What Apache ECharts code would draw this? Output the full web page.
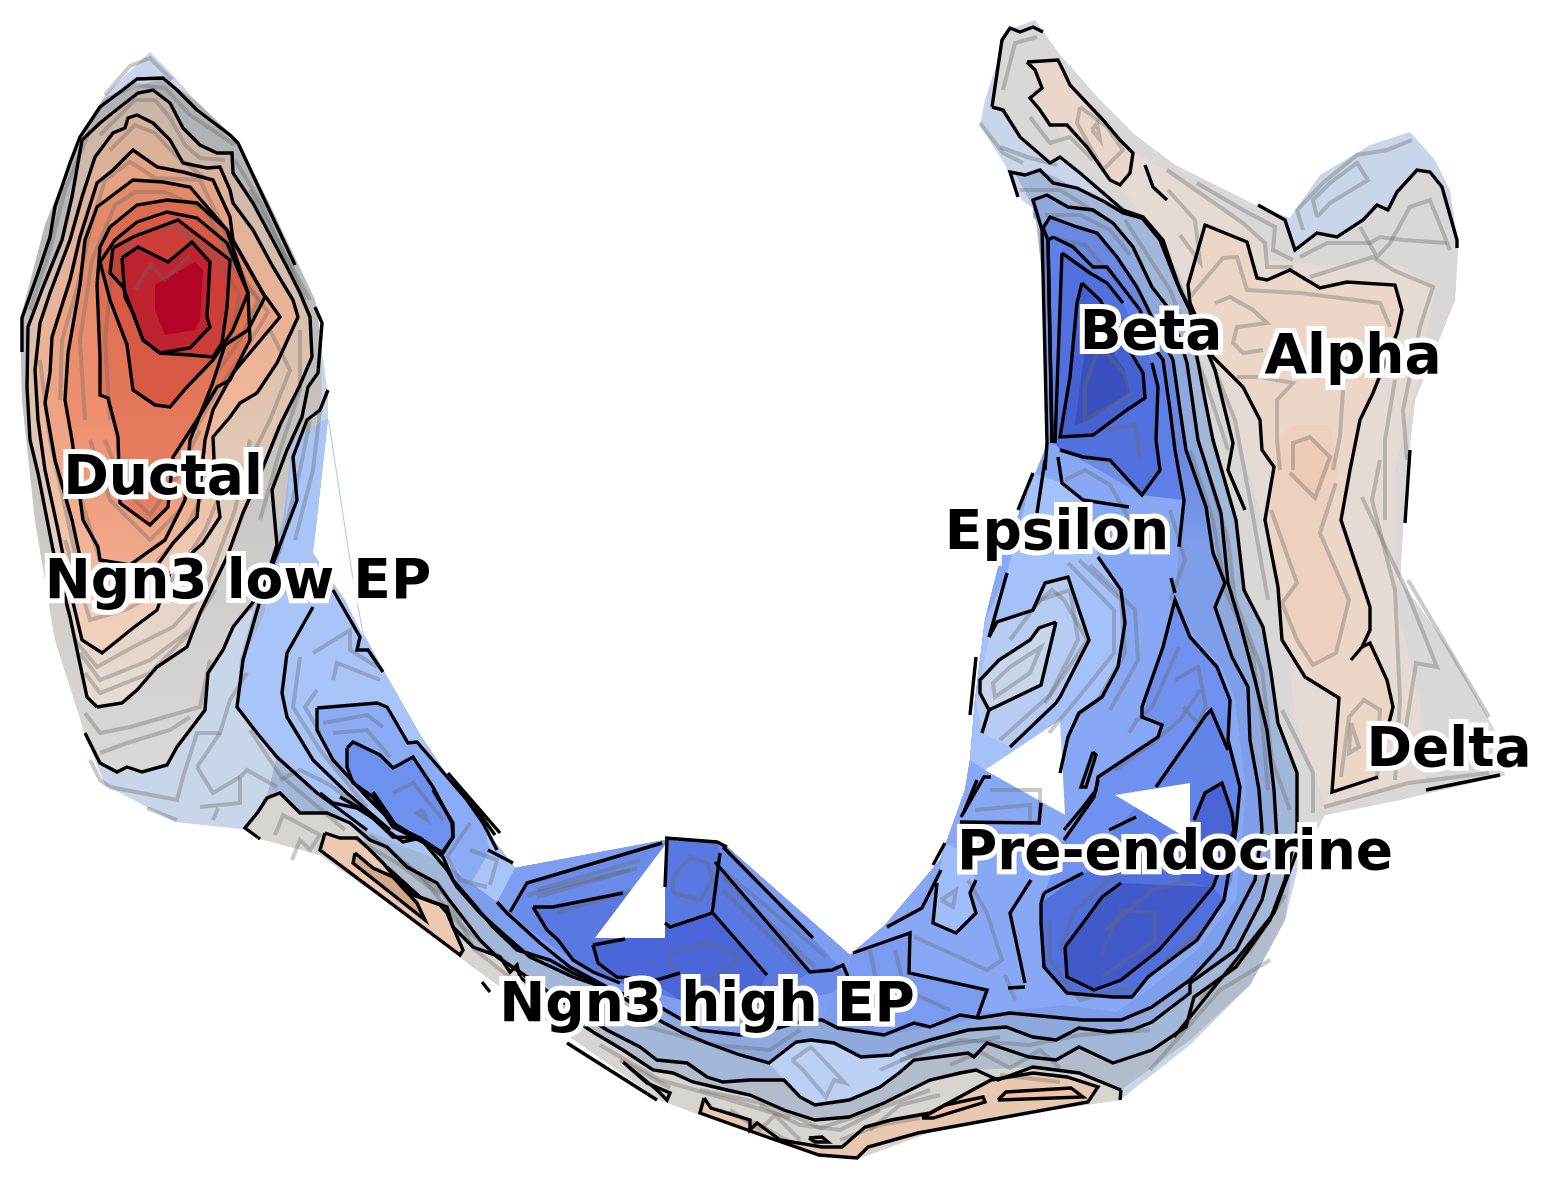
<!DOCTYPE html>
<html><head><meta charset="utf-8">
<script src="https://cdn.jsdelivr.net/npm/echarts@6/dist/echarts.min.js"></script>
<style>html,body{margin:0;padding:0;background:#fff}#c{width:1552px;height:1180px}</style></head>
<body><div id="c"></div>
<script>
// ---------- edges shared by filled contour levels (x, y in picture units) ----------
const silhouette=[[150,52],[170,72],[195,100],[237,140],[270,205],[315,300],[328,395],[328,418],[313,553],[345,600],[383,670],[420,735],[470,810],[515,868],[665,840],[725,845],[850,955],[885,925],[940,860],[965,790],[970,760],[975,700],[985,620],[1000,560],[1047,445],[1045,300],[1035,210],[1022,200],[1005,165],[980,125],[985,100],[998,60],[1008,30],[1035,20],[1060,55],[1100,100],[1135,135],[1175,165],[1255,205],[1290,218],[1320,175],[1370,145],[1410,132],[1435,160],[1450,190],[1458,245],[1455,300],[1415,400],[1405,490],[1400,580],[1450,650],[1500,740],[1505,775],[1400,800],[1325,815],[1300,860],[1285,920],[1250,985],[1190,1045],[1120,1100],[1085,1105],[950,1125],[860,1158],[820,1155],[770,1140],[700,1115],[660,1100],[560,1030],[470,965],[420,925],[320,855],[250,830],[175,822],[105,785],[85,735],[55,640],[35,520],[22,400],[20,320],[45,225],[75,150],[105,95]];
const upperEdge=[[1297,773],[1278,723],[1271,673],[1263,627],[1244,590],[1236,520],[1213,440],[1197,357],[1190,310],[1160,240],[1142,218],[1105,202],[1077,188],[1040,170],[1025,175],[1015,173],[1035,210],[1045,300],[1047,445],[1000,560],[985,620],[975,700],[970,760],[965,790],[940,860],[885,925],[850,955],[725,845],[665,840],[515,868],[470,810],[420,735],[383,670],[345,600],[313,553],[328,418],[293,440],[283,520],[260,590],[240,660],[237,707],[257,733],[277,757]];
const j4=[[267,797],[300,813],[387,867],[420,897],[447,907],[453,927],[473,947],[500,957],[510,972],[520,977],[560,1010],[593,1032],[623,1050],[653,1070],[673,1073],[693,1082],[727,1090],[750,1095],[784,1110],[815,1120],[849,1117],[884,1103],[930,1080],[960,1073],[976,1070],[998,1080],[1033,1067],[1079,1073],[1121,1090]];
const j3=[[267,797],[280,793],[300,813],[327,813],[350,823],[370,840],[387,847],[407,867],[437,883],[447,897],[470,927],[480,940],[497,957],[517,970],[560,1000],[607,1030],[640,1047],[657,1060],[687,1063],[707,1077],[723,1082],[750,1080],[784,1080],[800,1097],[815,1105],[849,1100],[880,1087],[899,1073],[914,1060],[968,1053],[974,1057],[987,1043],[1029,1057],[1056,1060],[1079,1047],[1113,1063],[1152,1050],[1186,1027],[1194,997],[1236,967],[1270,920],[1285,880],[1297,830],[1297,773]];
const j2=[[320,793],[333,803],[357,808],[373,818],[393,837],[420,838],[443,857],[453,880],[473,903],[493,927],[517,950],[550,960],[573,973],[607,987],[653,1017],[683,1033],[707,1043],[740,1055],[769,1063],[796,1042],[811,1040],[834,1043],[861,1057],[891,1055],[899,1050],[930,1040],[968,1030],[1006,1027],[1033,1037],[1056,1040],[1079,1028],[1109,1032],[1132,1030],[1152,1022],[1190,993],[1190,983],[1236,950],[1262,900],[1277,840],[1274,790],[1267,730],[1255,680],[1240,623],[1228,583],[1221,513],[1198,440],[1187,363],[1180,340],[1170,310],[1152,287],[1133,247],[1113,223],[1093,210],[1068,207],[1047,195],[1033,200],[1033,217]];
const j1=[[340,797],[363,810],[387,830],[403,842],[420,838],[447,870],[457,887],[480,913],[507,937],[530,957],[573,977],[620,993],[653,1003],[700,1030],[740,1035],[770,1030],[807,1020],[822,1020],[838,1028],[884,1035],[914,1023],[930,1027],[960,1015],[979,1018],[1010,1013],[1083,1020],[1121,1020],[1152,1007],[1190,980],[1220,947],[1255,880],[1262,830],[1259,790],[1250,740],[1248,687],[1232,657],[1215,607],[1225,583],[1213,553],[1206,507],[1186,450],[1180,410],[1173,360],[1160,335],[1147,307],[1137,287],[1117,257],[1097,233],[1077,227],[1050,217],[1043,228]];
// ---------- filled levels, left lobe ----------
const lobeA=[[85,733],[100,763],[117,772],[127,767],[142,772],[167,765],[177,747],[205,710],[208,673],[223,650],[233,627],[263,590],[285,540],[305,470],[322,395],[320,330],[315,300],[270,205],[237,140],[195,100],[163,78],[120,92],[100,107],[70,163],[45,225],[20,320],[22,400],[35,520],[55,640]];
const lobeB=[[97,707],[122,703],[137,690],[157,667],[187,647],[200,613],[227,557],[243,513],[262,470],[280,425],[300,385],[312,357],[310,317],[300,293],[287,267],[253,203],[233,173],[232,153],[217,153],[200,145],[183,128],[170,103],[153,90],[138,93],[120,107],[100,123],[82,140],[72,197],[62,240],[43,287],[28,327],[27,387],[30,440],[38,473],[53,550],[70,617],[87,697]];
const lobeC=[[40,323],[50,293],[70,240],[82,197],[95,157],[113,133],[125,128],[128,118],[137,115],[153,123],[170,140],[183,163],[207,168],[220,167],[230,190],[233,203],[253,230],[273,267],[293,300],[298,317],[277,363],[257,393],[240,403],[230,417],[213,437],[215,480],[220,517],[203,543],[170,573],[157,610],[133,628],[102,653],[82,640],[70,590],[58,530],[45,470],[38,420],[35,370]];
const lobeD=[[50,373],[52,337],[70,280],[80,237],[97,183],[113,170],[133,150],[157,167],[183,172],[213,180],[230,217],[233,240],[263,293],[280,317],[233,373],[213,410],[205,440],[197,517],[173,543],[140,590],[105,605],[85,580],[72,520],[55,460],[45,403]];
const lobeE=[[68,353],[80,285],[85,240],[97,207],[133,180],[163,182],[190,187],[227,230],[265,297],[248,330],[225,345],[212,385],[190,440],[185,500],[165,540],[130,565],[100,560],[98,547],[83,520],[72,440],[65,400]];
const lobeF=[[97,285],[100,357],[100,395],[108,398],[118,437],[120,503],[150,525],[168,507],[173,457],[197,420],[217,387],[230,380],[250,340],[248,293],[227,230],[197,203],[167,200],[137,205],[110,227],[100,247]];
const lobeG=[[137,222],[115,240],[100,262],[110,300],[127,345],[133,390],[155,405],[170,407],[187,387],[213,360],[233,330],[248,293],[227,243],[197,218],[167,212]];
const lobeH=[[113,248],[133,237],[178,220],[230,260],[227,307],[222,343],[213,357],[190,355],[160,353],[143,340],[123,287],[110,273]];
const lobeI=[[122,258],[138,247],[168,262],[192,242],[210,262],[207,317],[210,327],[190,348],[160,353],[143,340],[133,313],[125,297]];
const lobeJ=[[155,285],[195,262],[203,270],[200,320],[195,330],[165,335],[155,310]];
// ---------- filled levels, blue trough ----------
const bandGray=[...j4,[1190,1040],[1250,985],[1285,920],[1297,830],...upperEdge];
const bandMid=[...j3,...upperEdge];
const bandBlue=[...j2,[1043,228],[1047,445],[1000,560],[985,620],[975,700],[970,760],[965,790],[940,860],[885,925],[850,955],[725,845],[665,840],[515,868],[470,810],[420,735],[383,670],[345,600]];
const bandDeep=[...j1,[1047,445],[1000,560],[985,620],[975,700],[970,760],[965,790],[940,860],[885,925],[850,955],[725,845],[665,840],[515,868],[470,810],[420,735],[383,670]];
const paleLeft=[[293,440],[328,418],[313,553],[345,600],[383,670],[420,735],[470,810],[515,868],[510,912],[497,902],[440,860],[400,845],[347,822],[317,793],[277,757],[257,733],[237,707],[243,660],[263,617],[283,540]];
const lowOuter=[[317,708],[377,703],[387,707],[408,743],[417,742],[467,800],[483,823],[490,850],[470,885],[443,853],[393,823],[367,797],[333,760],[317,730]];
const lowInner=[[347,748],[353,742],[380,755],[393,768],[413,757],[433,787],[452,823],[453,837],[443,853],[413,837],[393,827],[373,797],[353,783],[347,767]];
const highBase=[[515,868],[665,840],[725,845],[850,955],[850,1000],[800,1020],[700,1030],[620,993],[573,977],[530,957],[507,937],[497,902]];
const highMid=[[527,883],[662,843],[717,842],[727,847],[813,938],[848,977],[843,990],[800,1000],[680,990],[620,983],[593,972],[558,950],[530,930],[510,912]];
const highDeep=[[533,907],[553,907],[623,893],[665,887],[667,840],[717,842],[720,853],[715,862],[810,972],[760,1005],[680,1000],[620,983],[593,972],[573,960],[558,940],[547,930]];
const highCore=[[593,945],[625,938],[665,938],[665,923],[670,927],[712,912],[767,975],[750,1005],[680,1000],[657,985],[617,977],[598,963]];
const palePatch=[[769,1063],[796,1042],[811,1040],[834,1043],[861,1057],[891,1055],[899,1050],[914,1060],[899,1073],[880,1087],[849,1100],[815,1105],[800,1097],[784,1080]];
const rightField=[[1047,445],[1000,560],[985,620],[975,700],[970,760],[965,790],[940,860],[885,925],[850,955],[840,990],[900,1015],[1000,1012],[1064,1005],[1117,1012],[1148,990],[1197,950],[1236,900],[1246,790],[1235,700],[1222,667],[1195,637],[1175,600],[1179,547],[1184,500],[1175,450]];
const epsLight=[[1007,573],[1033,473],[1062,483],[1083,500],[1098,557],[1121,590],[1125,623],[1118,667],[1102,697],[1079,713],[1068,737],[1060,773],[985,770],[970,760],[975,700],[985,620]];
const epsInner=[[989,637],[997,622],[1033,610],[1045,583],[1068,577],[1089,640],[1060,697],[1056,703],[1010,747],[982,733],[976,700]];
const epsCore=[[1056,622],[1039,628],[1030,640],[999,660],[980,680],[980,693],[989,710],[1041,685]];
const midBlob=[[853,953],[910,933],[909,973],[987,990],[977,1018],[930,1027],[884,1035],[838,1028],[822,1020]];
const midPale=[[937,883],[933,923],[956,933],[976,913],[970,893],[976,880],[960,850],[945,843]];
const apexRing=[[1175,600],[1190,637],[1217,667],[1230,700],[1228,740],[1240,787],[1236,830],[1232,880],[1213,920],[1197,940],[1148,977],[1113,997],[1067,993],[1044,967],[1041,923],[1041,903],[1064,840],[1083,807],[1096,790],[1098,777],[1158,737],[1162,725],[1142,717],[1142,707],[1163,647]];
const apexInner=[[1156,787],[1206,715],[1211,710],[1228,750],[1240,787],[1236,830],[1232,880],[1213,920],[1197,940],[1148,977],[1113,997],[1067,993],[1044,967],[1041,923],[1041,903],[1083,873],[1114,830]];
const preDeep=[[1041,903],[1083,873],[1150,865],[1213,887],[1224,900],[1197,940],[1148,977],[1132,997],[1113,997],[1067,993],[1044,967],[1041,923]];
const preCore=[[1065,947],[1083,923],[1102,897],[1121,883],[1213,887],[1194,910],[1159,950],[1121,980],[1094,990],[1067,977]];
const preTop=[[1205,793],[1222,783],[1232,813],[1234,830],[1213,887],[1180,880],[1194,820]];
// ---------- filled levels, beta and alpha ----------
const betaC=[[1043,228],[1050,217],[1077,227],[1097,233],[1117,257],[1137,287],[1147,307],[1160,335],[1173,360],[1186,450],[1206,507],[1213,553],[1179,547],[1184,500],[1142,495],[1052,443]];
const betaD=[[1048,240],[1053,237],[1073,247],[1093,267],[1107,267],[1127,293],[1140,310],[1152,345],[1163,360],[1175,450],[1184,500],[1142,495],[1110,460],[1052,443]];
const betaE=[[1062,253],[1090,273],[1107,283],[1123,303],[1152,363],[1158,387],[1156,440],[1160,470],[1142,495],[1110,460],[1083,457],[1060,450],[1055,443]];
const betaF=[[1082,283],[1100,300],[1137,363],[1143,373],[1145,398],[1127,410],[1093,435],[1060,437],[1070,377],[1077,303]];
const betaG=[[1090,320],[1125,370],[1130,392],[1090,420],[1075,425],[1082,370]];
const grayRight=[[1002,40],[1010,28],[1043,32],[1060,55],[1100,100],[1135,135],[1175,165],[1255,205],[1285,220],[1295,250],[1317,233],[1337,237],[1363,220],[1377,205],[1388,210],[1397,192],[1417,170],[1430,172],[1442,187],[1457,240],[1458,250],[1455,300],[1415,400],[1405,490],[1400,580],[1450,650],[1500,740],[1505,775],[1400,800],[1325,815],[1300,860],[1297,773],[1278,723],[1271,673],[1263,627],[1244,590],[1236,520],[1213,440],[1197,357],[1190,310],[1163,240],[1143,217],[1123,210],[1080,173],[1060,157],[1050,163],[1020,137],[1003,110],[992,107]];
const tanRight=[[1027,62],[1063,70],[1130,150],[1200,190],[1258,235],[1270,260],[1320,265],[1400,265],[1435,290],[1420,370],[1395,470],[1395,600],[1420,700],[1425,780],[1325,805],[1295,720],[1285,620],[1263,520],[1215,360],[1190,290],[1150,225],[1110,175],[1060,135]];
const alphaRing=[[1205,225],[1247,242],[1257,278],[1267,280],[1290,270],[1320,288],[1347,282],[1395,285],[1402,310],[1397,333],[1373,393],[1360,420],[1360,443],[1350,470],[1341,520],[1370,607],[1370,643],[1387,680],[1393,707],[1389,740],[1378,777],[1332,792],[1339,698],[1305,677],[1282,640],[1278,587],[1265,520],[1274,467],[1262,450],[1260,420],[1243,387],[1213,357],[1190,303],[1188,285]];
const alphaCore=[[1293,443],[1310,437],[1334,460],[1315,498],[1290,473]];
const alphaLong=[[1277,440],[1293,425],[1330,425],[1338,470],[1320,533],[1349,600],[1336,653],[1313,665],[1297,640],[1282,603],[1297,583],[1271,510]];
const topPeach=[[1027,62],[1058,60],[1063,70],[1070,85],[1087,103],[1103,120],[1120,140],[1133,153],[1130,173],[1120,185],[1110,180],[1087,147],[1067,125],[1050,125],[1040,110],[1030,98],[1042,88],[1035,70]];
// ---------- filled levels, lower strips ----------
const stripGray=[[245,828],[258,812],[267,798],[280,793],[300,813],[327,813],[350,823],[387,867],[420,897],[447,907],[453,927],[473,947],[500,957],[520,977],[560,1010],[593,1032],[653,1070],[693,1082],[727,1090],[784,1110],[815,1120],[849,1117],[884,1103],[930,1080],[976,1070],[1033,1067],[1079,1073],[1121,1090],[1120,1100],[1085,1105],[950,1125],[860,1158],[820,1155],[770,1140],[700,1115],[660,1100],[560,1030],[470,965],[420,925],[320,855],[260,839]];
const stripA=[[325,833],[320,850],[460,955],[463,950],[447,913],[440,905],[413,895],[397,880],[383,863],[370,850],[357,838],[340,838]];
const stripAin=[[355,853],[353,863],[425,920],[417,903],[393,877],[373,868]];
const stripB=[[704,1098],[711,1108],[750,1120],[750,1130],[757,1123],[780,1140],[822,1147],[842,1147],[865,1127],[891,1120],[930,1113],[991,1080],[1033,1073],[1067,1077],[1098,1087],[1088,1102],[918,1133],[868,1147],[857,1158],[819,1155],[770,1138],[700,1113]];
const stripBin1=[[922,1118],[945,1105],[983,1097],[985,1102],[933,1118]];
const stripBin2=[[998,1100],[1006,1092],[1071,1088],[1083,1097]];
const stripBdot=[[809,1138],[822,1137],[828,1142],[815,1142]];
// ---------- holes in the surface ----------
const holeA=[[595,938],[665,845],[665,938]];
const holeB=[[985,770],[1060,720],[1065,815]];
const holeC=[[1115,795],[1190,783],[1190,840]];
const sliver=[[330,425],[352,570],[365,640],[345,600],[313,553]];
const hairline=[[329,420],[352,570],[365,642],[364,642],[351,570],[328,420]];

const fillLevels=[
 [silhouette,'#c9d5e8'],[grayRight,'#dad8d6'],[tanRight,'#e5dbd4'],[alphaRing,'#ebd6c8'],[alphaLong,'#edd1be'],[alphaCore,'#efcbb5'],[topPeach,'#ead7cb'],
 [lobeA,[[0,'#aeb0b4'],[0.55,'#c8c4c0'],[1,'#dbd9d8']]],[lobeB,[[0,'#c8b5a8'],[0.5,'#e0c3b0'],[1,'#e8dcd4']]],[lobeC,[[0,'#d8b09a'],[0.5,'#eeb498'],[1,'#f0d2bf']]],[lobeD,[[0,'#e5a384'],[0.6,'#efa384'],[1,'#f1bda3']]],[lobeE,[[0,'#e08a68'],[0.6,'#ee8f6e'],[1,'#f0ab8c']]],[lobeF,[[0,'#dc6a4c'],[1,'#ea8062']]],[lobeG,'#d85a44'],[lobeH,'#cc3e37'],[lobeI,'#bf2230'],[lobeJ,'#b40426'],
 [bandGray,'#b3bcca'],[bandMid,'#a3b7d9'],[bandBlue,'#8fa9de'],[bandDeep,'#7f9eea'],[paleLeft,'#a8c4f9'],[lowOuter,'#8cabf5'],[lowInner,'#6e90ee'],[highBase,'#7f9ef2'],[highMid,'#6b8bea'],[highDeep,'#5a78e2'],[highCore,'#4a66d8'],[palePatch,'#bcd0f6'],
 [rightField,'#88a8f6'],[epsLight,'#a5c1fa'],[epsInner,'#b8cbf2'],[epsCore,'#c8d5ea'],[midBlob,'#7a9bf0'],[midPale,'#9fbcfb'],[apexRing,'#7091ef'],[apexInner,'#6283e8'],[preDeep,'#5270dd'],[preCore,'#4259ca'],[preTop,'#4a63d5'],
 [betaC,[[0,'#6a88df'],[0.7,'#6a88df'],[1,'#7f9eea']]],[betaD,'#5f80e8'],[betaE,'#5271de'],[betaF,'#4561d2'],[betaG,'#3b50bf'],
 [stripGray,'#d8d4d0'],[stripA,'#edc9b2'],[stripAin,'#d2a78d'],[stripB,'#e9c8b2'],[stripBin1,'#f2c0a4'],[stripBin2,'#f2c0a4'],
 [holeA,'#ffffff'],[holeB,'#ffffff'],[holeC,'#ffffff'],[sliver,'#ffffff'],[hairline,'#a8c4f9']
];

// ---------- faint level lines ----------
const grayLines=[
 [[105,95],[130,66],[150,58],[172,80]],[[85,130],[105,100],[135,85],[165,88],[190,115],[235,145]],[[100,135],[135,100],[155,100],[170,118],[185,145],[200,158],[225,160]],[[110,150],[135,125],[155,133],[175,155],[205,178]],[[30,310],[50,250],[65,190],[90,130]],[[235,160],[262,205],[305,300]],[[250,190],[285,255],[310,300]],
 [[60,400],[62,340],[78,285],[90,230],[105,180],[130,162],[155,178],[200,180],[222,225],[245,280],[268,312],[245,350],[218,390],[195,430]],
 [[85,420],[80,340],[92,260],[115,205],[135,192],[165,192],[205,210],[235,270],[258,300],[240,340],[215,375]],
 [[110,420],[105,340],[112,270],[135,235],[170,225],[215,255],[240,295],[230,340],[200,375]],
 [[105,440],[125,490],[150,515],[175,480],[200,430]],[[90,440],[110,500],[150,540],[180,510],[205,450]],[[75,480],[100,560],[145,575],[185,530],[210,480]],[[65,540],[90,620],[125,610],[165,590],[205,530],[230,470]],
 [[40,360],[50,440],[70,530],[85,600]],[[75,640],[97,667],[133,647],[173,627],[200,597]],[[80,653],[100,680],[150,660],[190,630],[215,590]],[[85,673],[100,693],[150,673],[190,633]],[[85,713],[100,733],[130,727],[200,707],[210,660]],[[100,753],[127,743],[170,730],[190,717]],
 [[135,290],[150,265],[165,280],[190,255]],
 [[270,330],[290,370],[270,420],[245,470]],[[250,440],[235,510],[205,590]],[[300,330],[300,390],[280,450],[260,520]],[[310,420],[300,470],[280,550],[250,610]],[[320,410],[313,470],[295,540]],
 [[90,760],[100,780],[110,787],[177,800],[183,777],[197,733],[220,733],[230,700],[247,673]],[[147,808],[177,820]],[[200,807],[240,803],[240,777],[247,770],[277,787]],[[197,767],[213,793],[240,777]],[[197,767],[220,733]],[[213,820],[218,808]],
 [[313,653],[350,630],[350,650],[377,667]],[[300,657],[293,707],[320,750],[367,807]],[[333,680],[337,663],[380,680]],[[317,690],[305,707],[320,733]],[[323,723],[367,715],[383,727]],[[333,733],[367,730],[390,757]],[[423,810],[417,813],[427,820],[423,810]],[[393,793],[413,783],[443,820]],[[470,823],[447,857],[460,880],[487,887]],[[470,850],[497,860],[490,885]],[[280,780],[300,770],[330,785],[370,815]],[[250,730],[280,775],[345,830]],
 [[275,835],[283,815],[320,835],[310,850],[300,840],[292,860]],[[355,838],[400,865],[440,895]],[[400,860],[445,895],[475,950],[520,985]],[[370,835],[420,875],[460,925],[510,965]],
 [[537,890],[640,860]],[[537,897],[637,868]],[[557,913],[630,890]],[[527,895],[630,870]],[[723,877],[815,967]],[[723,890],[800,967]],[[723,870],[826,957]],[[673,893],[700,900],[713,880],[707,863],[690,857],[673,877],[673,893]],[[670,953],[670,963],[683,977],[713,980],[740,957],[707,943],[670,953]],
 [[792,1060],[803,1070],[826,1097],[834,1080],[845,1083],[811,1047],[792,1060]],[[640,1025],[715,1045],[770,1050],[800,1030]],[[900,1060],[960,1040],[1030,1045],[1080,1035],[1150,1030]],[[880,1070],[930,1048],[1000,1037]],[[950,1065],[980,1052],[1010,1068],[1040,1050],[1060,1068]],[[1150,1070],[1220,990],[1270,960]],[[1200,1000],[1250,950],[1285,895]],[[600,1045],[660,1080],[730,1100],[790,1118]],[[700,1090],[770,1105],[820,1128],[870,1112],[930,1090]],[[620,1060],[670,1088]],
 [[760,1105],[800,1125],[840,1130],[880,1110]],[[730,1110],[760,1130],[775,1115],[800,1140]],[[870,1130],[900,1105],[940,1095]],[[1000,1075],[1060,1082]],[[720,1110],[760,1125],[800,1148]],[[840,1140],[880,1125],[920,1118]],
 [[914,937],[937,947],[987,970],[1002,960],[987,913],[968,880]],[[941,900],[956,890],[953,907],[941,900]],[[895,950],[905,990],[950,1010]],[[870,950],[880,1000]],[[1005,975],[1015,1000]],
 [[1102,953],[1121,910],[1155,913],[1155,940],[1102,977]],[[1106,930],[1152,890],[1190,880]],[[1060,950],[1075,910],[1120,870]],[[1050,920],[1050,960],[1080,1000],[1140,985],[1200,930]],
 [[1033,607],[1052,590],[1064,600],[1087,640],[1045,703]],[[1010,667],[1041,647],[1030,673],[995,697],[993,683],[1010,667]],[[1068,563],[1114,610],[1114,653],[1087,687],[1049,733]],[[1079,560],[1121,600],[1125,653],[1098,700],[1075,717]],[[1090,565],[1135,610],[1138,660],[1110,710]],[[1010,640],[1040,600],[1070,590],[1078,640],[1050,695],[1000,740]],
 [[1175,680],[1198,667],[1206,707],[1198,723],[1183,707]],[[1129,733],[1137,720],[1152,707],[1179,647]],[[1115,770],[1150,745],[1180,720],[1200,690]],[[990,790],[1040,790],[1040,815]],[[975,810],[1030,805],[1030,825]],
 [[1065,480],[1085,470],[1110,485],[1130,520]],[[1170,600],[1185,560],[1170,510]],[[1085,385],[1100,345],[1125,375],[1130,395],[1085,420],[1085,385]],[[1045,215],[1080,215],[1110,230],[1130,255]],[[1060,240],[1085,245],[1120,285]],[[1105,430],[1135,425],[1140,460]],[[1020,190],[1060,190],[1100,215]],
 [[1190,450],[1213,520],[1225,590],[1252,650],[1262,720],[1268,790]],[[1207,470],[1228,540],[1235,600],[1262,670],[1272,760],[1290,810]],[[1125,220],[1170,290],[1205,380],[1228,450]],[[1160,240],[1195,320],[1235,420],[1250,500],[1268,600]],
 [[1003,90],[1015,43],[1037,37]],[[1030,117],[1050,143],[1070,137],[1093,160]],[[1000,147],[1027,157],[1057,165]],[[980,123],[1003,153],[1023,163]],[[1080,107],[1077,123],[1103,170],[1123,150],[1107,127],[1080,107]],[[1092,130],[1100,140],[1097,123],[1092,130]],
 [[1197,183],[1243,210],[1275,227],[1273,250],[1293,260]],[[1167,170],[1243,223],[1265,243],[1267,267],[1293,267]],[[1317,217],[1313,200],[1330,183],[1357,163],[1368,180],[1330,203],[1317,217]],[[1303,230],[1297,210],[1323,183],[1357,155],[1387,150],[1412,140]],[[1300,257],[1327,243],[1370,243],[1380,237],[1403,240],[1447,243]],[[1360,227],[1377,257],[1390,243],[1410,207],[1430,200],[1450,250]],[[1310,277],[1373,257],[1393,270],[1433,287],[1420,327],[1403,410],[1407,460]],
 [[1190,297],[1223,258],[1237,257],[1247,290],[1300,293],[1380,303],[1390,327]],[[1215,303],[1230,297],[1253,310],[1267,323],[1237,327],[1233,343],[1243,353],[1263,350]],[[1237,377],[1260,377],[1293,383],[1277,400],[1277,440],[1280,470]],[[1343,390],[1340,437],[1333,470]],[[1293,470],[1293,443],[1310,437],[1330,457],[1315,498],[1290,473]],[[1271,510],[1297,583],[1282,603],[1297,640],[1313,665],[1336,653],[1349,600],[1320,533],[1336,483]],
 [[1362,497],[1382,540],[1405,587],[1437,667],[1416,663],[1405,733]],[[1408,580],[1489,717]],[[1341,777],[1349,717],[1364,700],[1380,710],[1377,780]],[[1351,723],[1359,747],[1349,753],[1351,723]],[[1282,710],[1297,740],[1313,773],[1313,813]],[[1324,807],[1408,783],[1489,773]],[[1380,460],[1372,500],[1395,590],[1400,700],[1395,780]],[[1395,380],[1385,440],[1385,520]],[[1168,190],[1195,220],[1200,262],[1180,235]]
];
// ---------- heavy level lines ----------
const blackLines=[
 [[22,352],[22,318],[38,273],[50,237],[55,207],[70,163],[80,137],[100,107],[120,92],[137,79],[163,78],[177,90],[197,110],[230,135],[238,143],[295,265]],
 lobeB.concat([lobeB[0]]),lobeC.concat([lobeC[0]]),lobeD.concat([lobeD[0]]),lobeE.concat([lobeE[0]]),lobeF.concat([lobeF[0]]),lobeG.concat([lobeG[0]]),lobeH.concat([lobeH[0]]),lobeI.concat([lobeI[0]]),
 [[85,733],[100,763],[117,772],[127,767],[142,772],[167,765],[177,747],[205,710],[208,673],[223,650],[233,627],[263,590],[277,545],[272,490],[287,450],[302,417],[308,387],[318,373],[322,323],[315,307]],
 [[328,390],[320,410],[307,420],[293,457],[297,500],[283,537],[263,590],[243,660],[237,707],[257,733],[277,757],[317,793],[347,815],[367,830]],[[313,607],[287,653],[282,693],[287,717],[313,760],[347,793],[390,830]],[[333,590],[360,637],[357,650],[368,650],[383,672]],
 lowInner.concat([lowInner[0]]),[[317,708],[377,703],[387,707],[408,743],[417,742],[467,800],[483,823],[497,850]],[[317,708],[317,730],[333,760],[367,797],[393,823],[443,853]],[[373,792],[397,827],[420,838],[442,853],[453,837],[453,823],[433,790]],[[448,773],[500,833]],[[453,780],[477,810],[495,835]],[[488,850],[513,863]],
 [[260,839],[245,828],[258,812],[267,798],[280,793],[300,813],[327,813],[350,823],[370,840],[387,847],[407,867],[437,883],[447,897],[470,927],[480,940],[497,957],[517,970],[560,1000],[607,1030],[640,1047],[657,1060],[687,1063],[707,1077],[723,1082],[750,1080],[784,1080],[800,1097],[815,1105],[849,1100],[880,1087],[899,1073],[914,1060],[968,1053],[974,1057],[987,1043],[1029,1057],[1056,1060],[1079,1047],[1113,1063],[1152,1050],[1186,1027],[1194,997],[1236,967],[1270,920],[1285,880],[1297,830],[1297,773],[1278,723],[1271,673],[1263,627],[1244,590],[1236,520],[1213,440],[1205,400],[1197,357],[1190,310],[1177,283],[1160,240],[1142,218],[1123,213],[1105,202],[1077,188],[1053,183],[1040,170],[1025,175],[1010,172],[1018,197]],
 j2.slice(0,-1).concat([[1042,230],[1047,443],[1045,470]]),j1.concat([[1048,240],[1052,443]]),
 [[387,867],[420,897],[447,907],[453,927],[473,947],[500,957],[510,972],[517,965],[520,977],[560,1010],[593,1032],[623,1050],[653,1070],[673,1073],[693,1082],[727,1090],[750,1095],[784,1110],[815,1120],[849,1117],[884,1103],[930,1080],[960,1073],[976,1070],[998,1080],[1033,1067],[1079,1073],[1121,1090]],
 [[482,982],[490,992]],[[567,1043],[657,1100]],[[623,1062],[647,1083],[670,1093],[667,1100],[657,1090],[623,1062]],[[1174,1037],[1274,913],[1305,830]],
 stripA.concat([stripA[0]]),stripAin.concat([stripAin[0]]),
 [[510,912],[527,883],[662,843]],[[497,902],[507,913],[540,943],[570,967],[607,987]],[[665,838],[717,842],[727,847]],[[667,840],[665,887]],[[665,923],[670,927],[712,913],[713,907],[720,853]],[[723,847],[813,938]],[[715,862],[810,972],[832,970],[843,965],[848,977]],[[712,912],[767,975]],
 [[533,907],[553,907],[623,893]],[[533,907],[547,930],[558,940],[573,960],[593,972],[620,983]],[[593,945],[625,939]],[[593,945],[598,963],[617,977],[657,980],[680,973]],
 stripB.concat([stripB[0]]),stripBin1.concat([stripBin1[0]]),stripBin2.concat([stripBin2[0]]),stripBdot.concat([stripBdot[0]]),
 [[1121,1090],[1120,1100]],
 [[1065,947],[1083,923],[1102,897],[1121,883]],[[1065,947],[1067,977],[1094,990],[1121,980],[1159,950],[1194,910],[1213,887]],
 [[1041,903],[1041,923],[1044,967],[1067,993],[1113,997],[1132,997],[1148,977],[1197,940],[1224,900],[1236,830],[1240,787],[1228,740],[1230,700],[1217,667],[1190,637],[1175,600],[1163,647],[1142,707],[1142,717],[1162,725],[1158,737],[1098,777],[1096,790],[1083,807],[1064,830]],[[1044,893],[1083,873]],[[1041,903],[1044,893]],
 [[1031,880],[1010,913],[1025,983]],[[1008,988],[1025,987]],
 [[1194,820],[1205,793],[1222,783],[1232,813],[1234,830],[1213,887]],[[1156,787],[1206,715],[1211,710],[1228,750]],[[1109,830],[1136,817]],
 [[887,927],[922,908],[941,870]],[[937,883],[933,923],[956,933],[976,913],[970,893],[976,880]],[[853,953],[910,933],[909,973],[987,990],[977,1018]],[[933,865],[945,843]],[[964,812],[977,780]],[[960,822],[1039,823],[1041,803]],[[1064,840],[1094,797],[1098,780]],
 [[1098,557],[1121,590],[1125,623],[1118,667],[1102,697],[1079,713],[1068,737],[1060,773]],[[989,637],[997,622],[1033,610],[1045,583],[1068,577],[1089,640],[1060,697],[1056,703],[1010,747]],[[1007,573],[989,637]],[[1056,622],[1039,628],[1030,640],[999,660],[980,680],[980,693],[989,710],[1041,685],[1056,622]],[[989,710],[982,733]],[[976,657],[970,715]],[[961,817],[984,777],[991,777]],[[1093,752],[1081,787],[1086,787],[1096,755],[1093,752]],[[1171,578],[1175,593]],
 [[1060,450],[1083,457],[1110,460],[1142,495],[1160,470],[1156,440],[1158,387],[1152,363]],[[1058,457],[1062,483],[1083,500],[1129,507]],[[1033,473],[1018,510]],[[1045,460],[1037,513]],[[1140,310],[1152,345],[1163,360],[1170,410],[1175,450],[1184,500],[1179,547]],
 [[1053,237],[1048,240],[1052,443]],[[1053,237],[1073,247],[1093,267],[1107,267],[1127,293],[1140,310]],[[1062,253],[1090,273],[1107,283],[1123,303]],[[1062,253],[1055,443]],
 betaF.concat([betaF[0]]),
 [[1190,310],[1215,370],[1233,443],[1228,470],[1245,510]],
 [[992,107],[1002,40],[1010,28],[1020,32],[1033,27],[1043,32]],[[992,107],[1003,110],[1020,137],[1050,163],[1060,157],[1080,173],[1123,210],[1143,217],[1163,240],[1180,290],[1190,310]],topPeach.concat([topPeach[0]]),[[1145,165],[1153,187],[1167,200]],[[1258,205],[1285,220],[1295,250],[1317,233],[1337,237],[1363,220],[1377,205],[1388,210],[1397,192],[1417,170],[1430,172],[1442,187],[1457,240],[1457,248]],
 [[1351,660],[1362,647],[1370,630],[1370,607],[1341,520],[1350,470],[1360,420],[1373,393],[1397,333],[1402,310],[1395,285],[1347,282],[1320,288],[1290,270],[1267,280],[1257,278],[1247,242],[1205,225],[1188,285],[1190,303],[1213,357],[1243,387],[1260,420],[1262,450],[1274,467],[1265,520],[1278,587],[1282,640],[1305,677],[1339,698],[1332,792],[1378,777]],[[1362,647],[1370,643],[1387,680],[1393,707],[1389,723]],[[1410,450],[1405,523]],[[1426,790],[1500,775]]
];
// ---------- labels ----------
const clusterNames=['Ductal','Ngn3 low EP','Ngn3 high EP','Pre-endocrine','Epsilon','Beta','Alpha','Delta'];
const clusterX=[163,238,707,1175,1057,1151,1353,1449];
const clusterY=[480,584,1007,855,535,335,359,752];

const chart=echarts.init(document.getElementById('c'),null,{renderer:'canvas'});
const toPts=(api,pts)=>pts.map(p=>api.coord(p));
const toFill=c=>Array.isArray(c)?new echarts.graphic.LinearGradient(0,0,0,1,c.map(s=>({offset:s[0],color:s[1]}))):c;
chart.setOption({
 animation:false,backgroundColor:'#fff',
 grid:{left:0,right:0,top:0,bottom:0},
 xAxis:{type:'value',min:0,max:1552,show:false},
 yAxis:{type:'value',min:0,max:1180,inverse:true,show:false},
 series:[
  {type:'custom',silent:true,clip:false,data:fillLevels.map((d,i)=>[d[0][0][0],d[0][0][1],i]),encode:{x:0,y:1},
   renderItem:(p,api)=>{const l=fillLevels[p.dataIndex];return {type:'polygon',shape:{points:toPts(api,l[0])},style:{fill:toFill(l[1])}};}},
  {type:'custom',silent:true,clip:false,data:grayLines.map((d,i)=>[d[0][0],d[0][1],i]),encode:{x:0,y:1},
   renderItem:(p,api)=>({type:'polyline',shape:{points:toPts(api,grayLines[p.dataIndex])},style:{fill:null,stroke:'rgba(105,105,105,0.36)',lineWidth:4,lineJoin:'miter'}})},
  {type:'custom',silent:true,clip:false,data:blackLines.map((d,i)=>[d[0][0],d[0][1],i]),encode:{x:0,y:1},
   renderItem:(p,api)=>({type:'polyline',shape:{points:toPts(api,blackLines[p.dataIndex])},style:{fill:null,stroke:'#000',lineWidth:3.4,lineJoin:'miter'}})},
  {type:'scatter',silent:true,symbolSize:0,clip:false,itemStyle:{opacity:1},data:clusterNames.map((n,i)=>({name:n,value:[clusterX[i],clusterY[i]]})),
   label:{show:true,position:'inside',formatter:'{b}',fontFamily:'DejaVu Sans',fontWeight:'bold',fontSize:55,color:'#000',opacity:1,textBorderColor:'#fff',textBorderWidth:10,align:'center',verticalAlign:'middle'}}
 ]
});
</script></body></html>
